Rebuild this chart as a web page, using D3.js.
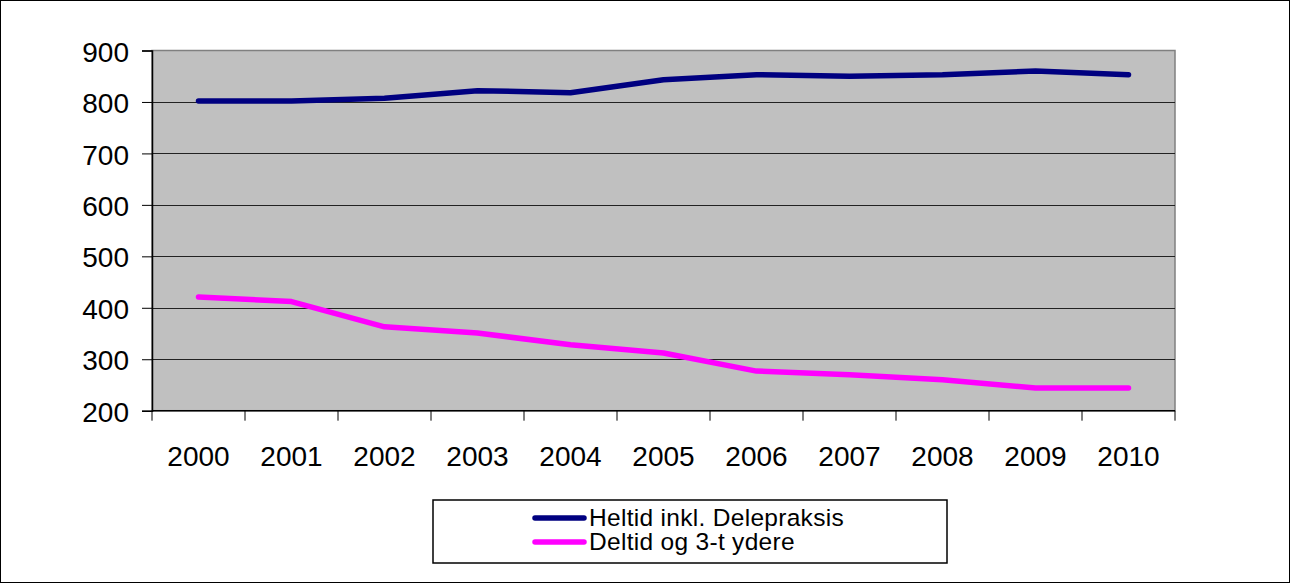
<!DOCTYPE html>
<html><head><meta charset="utf-8">
<script src="https://cdn.jsdelivr.net/npm/d3@7"></script>
<style>html,body{margin:0;padding:0;background:#fff}svg{display:block}</style>
</head><body><svg id="c" width="1290" height="583"></svg>
<script>
const years = ["2000","2001","2002","2003","2004","2005","2006","2007","2008","2009","2010"];
const heltid = [802,802,807,822,818,843,853,850,853,860,853];
const deltid = [421,412,363,351,328,312,277,270,260,244,244];
const yTicks = [200,300,400,500,600,700,800,900];
const seriesNames = ["Heltid inkl. Delepraksis","Deltid og 3-t ydere"];
const colors = ["#000080","#FF00FF"];

const svg = d3.select("#c");
const font = "Liberation Sans, Arial, sans-serif";
svg.append("rect").attr("x",0.5).attr("y",0.5).attr("width",1289).attr("height",582)
  .attr("fill","#fff").attr("stroke","#000");

const L=152,R=1175,T=50.5,B=410.7;
const x = d3.scaleBand().domain(years).range([L,R]);
const y = d3.scaleLinear().domain([200,900]).range([B,T]);

svg.append("rect").attr("x",L).attr("y",T).attr("width",R-L).attr("height",B-T)
  .attr("fill","#C0C0C0").attr("stroke","#808080").attr("stroke-width",1.5);

// gridlines
svg.append("g").selectAll("line").data(yTicks.slice(1,-1)).join("line")
  .attr("x1",L).attr("x2",R).attr("y1",d=>Math.round(y(d))+0.5).attr("y2",d=>Math.round(y(d))+0.5)
  .attr("stroke","#222").attr("stroke-width",1);

// y axis
const ya = svg.append("g").attr("transform",`translate(${L},0)`)
  .call(d3.axisLeft(y).tickValues(yTicks).tickSize(10).tickPadding(13));
ya.select(".domain").attr("stroke","#000").attr("stroke-width",1.5);
ya.selectAll(".tick line").attr("stroke","#000");
ya.selectAll("text").attr("font-family",font).attr("font-size",28).attr("fill","#000").attr("dy","0.38em");

// x axis
const xa = svg.append("g").attr("transform",`translate(0,${B})`);
xa.append("line").attr("x1",L).attr("x2",R).attr("stroke","#000").attr("stroke-width",1.5);
xa.selectAll("line.t").data(years.concat(["end"])).join("line").attr("class","t")
  .attr("x1",(d,i)=>L+i*x.step()).attr("x2",(d,i)=>L+i*x.step()).attr("y1",0).attr("y2",10)
  .attr("stroke","#000");
xa.selectAll("text").data(years).join("text")
  .attr("x",d=>x(d)+x.bandwidth()/2).attr("y",55.3).attr("text-anchor","middle")
  .attr("font-family",font).attr("font-size",28).text(d=>d);

// lines
const line = d3.line().x((d,i)=>x(years[i])+x.bandwidth()/2).y(d=>y(d));
[heltid,deltid].forEach((s,k)=>{
  svg.append("path").datum(s).attr("d",line).attr("fill","none")
    .attr("stroke",colors[k]).attr("stroke-width",5.5).attr("stroke-linecap","round").attr("stroke-linejoin","round");
});

// legend
const lg = svg.append("g");
lg.append("rect").attr("x",433).attr("y",500).attr("width",514).attr("height",63)
  .attr("fill","#fff").attr("stroke","#000").attr("stroke-width",1.5);
seriesNames.forEach((n,i)=>{
  const yy = 518+i*24;
  lg.append("line").attr("x1",535).attr("x2",584).attr("y1",yy).attr("y2",yy)
    .attr("stroke",colors[i]).attr("stroke-width",5.5).attr("stroke-linecap","round");
  lg.append("text").attr("x",589).attr("y",yy+7.5).attr("font-family",font)
    .attr("font-size",24.5).attr("letter-spacing","0.3px").text(n);
});
</script></body></html>
